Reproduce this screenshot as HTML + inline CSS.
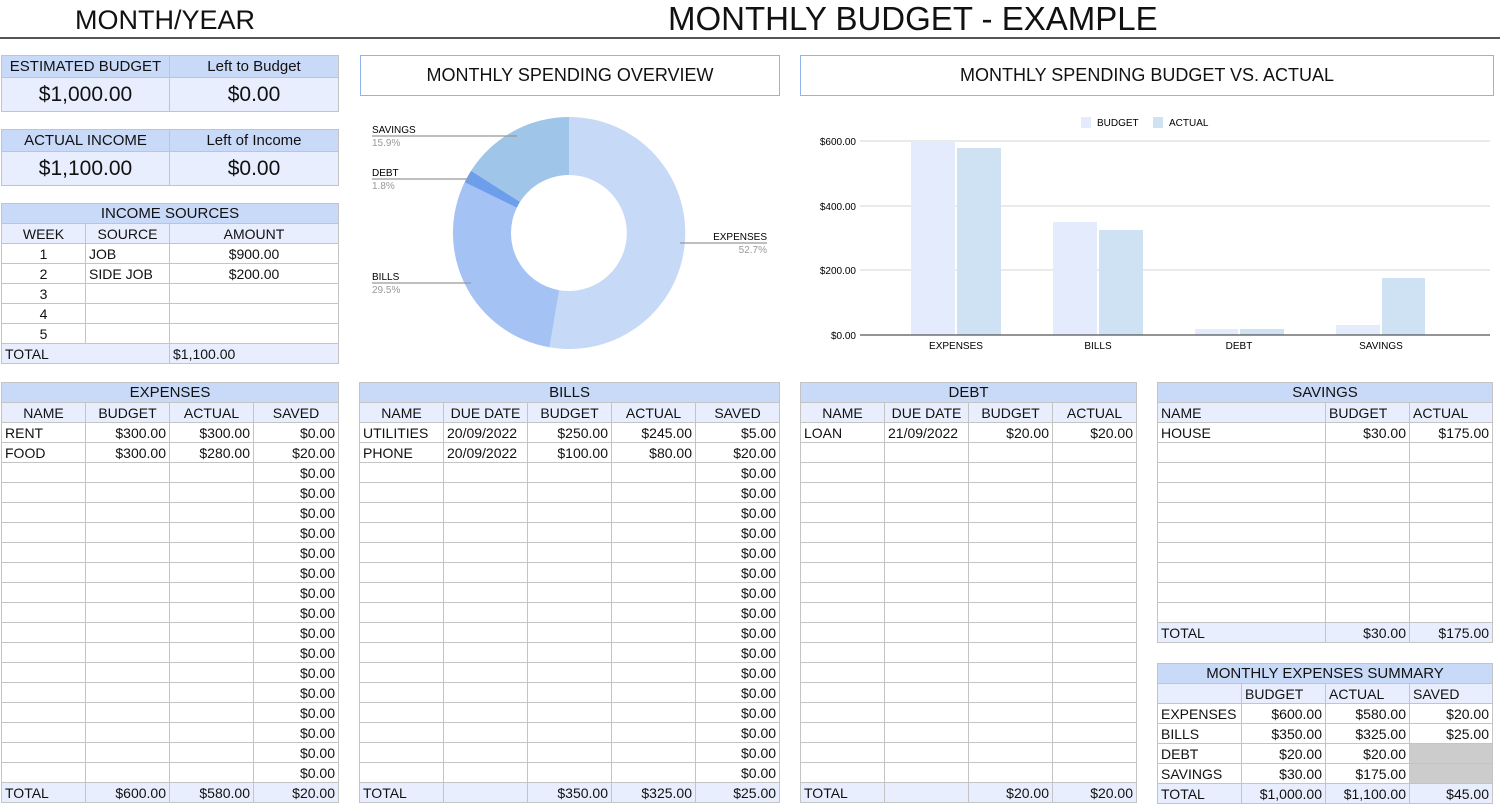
<!DOCTYPE html>
<html><head><meta charset="utf-8"><style>
body{margin:0;width:1500px;height:808px;background:#fff;position:relative;overflow:hidden;font-family:"Liberation Sans",sans-serif;color:#111}
.a{position:absolute}
table{position:absolute;border-collapse:collapse;table-layout:fixed;font-size:14px}
td{border:1px solid #c4c4c4;padding:0 3px;white-space:nowrap;overflow:hidden;line-height:18px;height:19px}
.h{background:#c9daf8;text-align:center;font-size:15px}
.s{background:#e8eefd;text-align:center}
.t td{background:#e8eefd}
.r{text-align:right}.c{text-align:center}
.g{background:#cccccc}
.box{position:absolute;border:1px solid #8fb3ee;background:#fff;text-align:center;font-size:18px;line-height:38px}
</style></head><body>
<div class="a" style="left:0;top:0;width:1500px;height:37px;border-bottom:2px solid #555"></div>
<div class="a" style="left:75px;top:2px;font-size:27px;line-height:36px">MONTH/YEAR</div>
<div class="a" style="left:668px;top:0;font-size:33px;line-height:38px">MONTHLY BUDGET - EXAMPLE</div>

<table style="left:1px;top:55px;width:337px">
<col style="width:168px"><col style="width:169px">
<tr><td class="h" style="height:21px">ESTIMATED BUDGET</td><td class="h" style="height:21px">Left to Budget</td></tr>
<tr><td class="s" style="height:33px;font-size:21px">$1,000.00</td><td class="s" style="height:33px;font-size:21px">$0.00</td></tr></table>
<table style="left:1px;top:129px;width:337px">
<col style="width:168px"><col style="width:169px">
<tr><td class="h" style="height:21px">ACTUAL INCOME</td><td class="h" style="height:21px">Left of Income</td></tr>
<tr><td class="s" style="height:33px;font-size:21px">$1,100.00</td><td class="s" style="height:33px;font-size:21px">$0.00</td></tr></table>

<table style="left:1px;top:203px;width:337px">
<col style="width:84px"><col style="width:84px"><col style="width:169px">
<tr><td class="h" colspan="3">INCOME SOURCES</td></tr>
<tr><td class="s">WEEK</td><td class="s">SOURCE</td><td class="s">AMOUNT</td></tr>
<tr><td class="c">1</td><td>JOB</td><td class="c">$900.00</td></tr>
<tr><td class="c">2</td><td>SIDE JOB</td><td class="c">$200.00</td></tr>
<tr><td class="c">3</td><td></td><td></td></tr>
<tr><td class="c">4</td><td></td><td></td></tr>
<tr><td class="c">5</td><td></td><td></td></tr>
<tr class="t"><td colspan="2">TOTAL</td><td>$1,100.00</td></tr></table>

<div class="box" style="left:360px;top:55px;width:418px;height:39px">MONTHLY SPENDING OVERVIEW</div>
<div class="box" style="left:800px;top:55px;width:692px;height:39px">MONTHLY SPENDING BUDGET VS. ACTUAL</div>

<svg class="a" style="left:0;top:0" width="1500" height="380">
<path d="M569,117 A116,116 0 1 1 549.5,347.3 L559.2,290.2 A58,58 0 1 0 569,175 Z" fill="#c6d9f7"/>
<path d="M549.5,347.3 A116,116 0 0 1 464.6,182.3 L516.8,207.7 A58,58 0 0 0 559.2,290.2 Z" fill="#a4c2f4"/>
<path d="M464.6,182.3 A116,116 0 0 1 471.1,170.8 L520,201.9 A58,58 0 0 0 516.8,207.7 Z" fill="#6d9eeb"/>
<path d="M471.1,170.8 A116,116 0 0 1 569,117 L569,175 A58,58 0 0 0 520,201.9 Z" fill="#9fc5e8"/>
<g stroke="#999" stroke-width="1.2">
<line x1="372" y1="136" x2="517" y2="136"/><line x1="372" y1="179" x2="472" y2="179"/>
<line x1="372" y1="283" x2="471" y2="283"/><line x1="680" y1="243" x2="767" y2="243"/></g>
<g font-family="Liberation Sans" font-size="10">
<text x="372" y="133">SAVINGS</text><text x="372" y="146" fill="#999">15.9%</text>
<text x="372" y="176">DEBT</text><text x="372" y="189" fill="#999">1.8%</text>
<text x="372" y="280">BILLS</text><text x="372" y="293" fill="#999">29.5%</text>
<text x="767" y="240" text-anchor="end">EXPENSES</text><text x="767" y="253" fill="#999" text-anchor="end">52.7%</text>
</g>
<g stroke="#d6d6d6"><line x1="860" y1="141" x2="1490" y2="141"/><line x1="860" y1="206" x2="1490" y2="206"/><line x1="860" y1="270" x2="1490" y2="270"/></g>
<g fill="#e3ebfd"><rect x="911" y="141" width="44" height="194"/><rect x="1053" y="222" width="44" height="113"/><rect x="1195" y="329" width="43" height="6"/><rect x="1336" y="325" width="44" height="10"/><rect x="1081" y="117" width="10" height="11"/></g>
<g fill="#cfe2f3"><rect x="957" y="148" width="44" height="187"/><rect x="1099" y="230" width="44" height="105"/><rect x="1240" y="329" width="44" height="6"/><rect x="1382" y="278" width="43" height="57"/><rect x="1153" y="117" width="10" height="11"/></g>
<line x1="860" y1="335" x2="1490" y2="335" stroke="#555" stroke-width="1.2"/>
<g font-family="Liberation Sans" font-size="10">
<text x="1097" y="126">BUDGET</text><text x="1169" y="126">ACTUAL</text>
<text x="856" y="145" text-anchor="end">$600.00</text><text x="856" y="210" text-anchor="end">$400.00</text>
<text x="856" y="274" text-anchor="end">$200.00</text><text x="856" y="339" text-anchor="end">$0.00</text>
<g text-anchor="middle"><text x="956" y="349">EXPENSES</text><text x="1098" y="349">BILLS</text><text x="1239" y="349">DEBT</text><text x="1381" y="349">SAVINGS</text></g>
</g></svg>

<table style="left:1px;top:382px;width:337px">
<col style="width:84px"><col style="width:84px"><col style="width:84px"><col style="width:85px">
<tr><td class="h" colspan="4">EXPENSES</td></tr>
<tr><td class="s">NAME</td><td class="s">BUDGET</td><td class="s">ACTUAL</td><td class="s">SAVED</td></tr>
<tr><td>RENT</td><td class="r">$300.00</td><td class="r">$300.00</td><td class="r">$0.00</td></tr>
<tr><td>FOOD</td><td class="r">$300.00</td><td class="r">$280.00</td><td class="r">$20.00</td></tr>
<tr><td></td><td></td><td></td><td class="r">$0.00</td></tr><tr><td></td><td></td><td></td><td class="r">$0.00</td></tr>
<tr><td></td><td></td><td></td><td class="r">$0.00</td></tr><tr><td></td><td></td><td></td><td class="r">$0.00</td></tr>
<tr><td></td><td></td><td></td><td class="r">$0.00</td></tr><tr><td></td><td></td><td></td><td class="r">$0.00</td></tr>
<tr><td></td><td></td><td></td><td class="r">$0.00</td></tr><tr><td></td><td></td><td></td><td class="r">$0.00</td></tr>
<tr><td></td><td></td><td></td><td class="r">$0.00</td></tr><tr><td></td><td></td><td></td><td class="r">$0.00</td></tr>
<tr><td></td><td></td><td></td><td class="r">$0.00</td></tr><tr><td></td><td></td><td></td><td class="r">$0.00</td></tr>
<tr><td></td><td></td><td></td><td class="r">$0.00</td></tr><tr><td></td><td></td><td></td><td class="r">$0.00</td></tr>
<tr><td></td><td></td><td></td><td class="r">$0.00</td></tr><tr><td></td><td></td><td></td><td class="r">$0.00</td></tr>
<tr class="t"><td>TOTAL</td><td class="r">$600.00</td><td class="r">$580.00</td><td class="r">$20.00</td></tr></table>

<table style="left:359px;top:382px;width:420px">
<col style="width:84px"><col style="width:84px"><col style="width:84px"><col style="width:84px"><col style="width:84px">
<tr><td class="h" colspan="5">BILLS</td></tr>
<tr><td class="s">NAME</td><td class="s">DUE DATE</td><td class="s">BUDGET</td><td class="s">ACTUAL</td><td class="s">SAVED</td></tr>
<tr><td>UTILITIES</td><td>20/09/2022</td><td class="r">$250.00</td><td class="r">$245.00</td><td class="r">$5.00</td></tr>
<tr><td>PHONE</td><td>20/09/2022</td><td class="r">$100.00</td><td class="r">$80.00</td><td class="r">$20.00</td></tr>
<tr><td></td><td></td><td></td><td></td><td class="r">$0.00</td></tr><tr><td></td><td></td><td></td><td></td><td class="r">$0.00</td></tr>
<tr><td></td><td></td><td></td><td></td><td class="r">$0.00</td></tr><tr><td></td><td></td><td></td><td></td><td class="r">$0.00</td></tr>
<tr><td></td><td></td><td></td><td></td><td class="r">$0.00</td></tr><tr><td></td><td></td><td></td><td></td><td class="r">$0.00</td></tr>
<tr><td></td><td></td><td></td><td></td><td class="r">$0.00</td></tr><tr><td></td><td></td><td></td><td></td><td class="r">$0.00</td></tr>
<tr><td></td><td></td><td></td><td></td><td class="r">$0.00</td></tr><tr><td></td><td></td><td></td><td></td><td class="r">$0.00</td></tr>
<tr><td></td><td></td><td></td><td></td><td class="r">$0.00</td></tr><tr><td></td><td></td><td></td><td></td><td class="r">$0.00</td></tr>
<tr><td></td><td></td><td></td><td></td><td class="r">$0.00</td></tr><tr><td></td><td></td><td></td><td></td><td class="r">$0.00</td></tr>
<tr><td></td><td></td><td></td><td></td><td class="r">$0.00</td></tr><tr><td></td><td></td><td></td><td></td><td class="r">$0.00</td></tr>
<tr class="t"><td>TOTAL</td><td></td><td class="r">$350.00</td><td class="r">$325.00</td><td class="r">$25.00</td></tr></table>

<table style="left:800px;top:382px;width:336px">
<col style="width:84px"><col style="width:84px"><col style="width:84px"><col style="width:84px">
<tr><td class="h" colspan="4">DEBT</td></tr>
<tr><td class="s">NAME</td><td class="s">DUE DATE</td><td class="s">BUDGET</td><td class="s">ACTUAL</td></tr>
<tr><td>LOAN</td><td>21/09/2022</td><td class="r">$20.00</td><td class="r">$20.00</td></tr>
<tr><td></td><td></td><td></td><td></td></tr><tr><td></td><td></td><td></td><td></td></tr><tr><td></td><td></td><td></td><td></td></tr>
<tr><td></td><td></td><td></td><td></td></tr><tr><td></td><td></td><td></td><td></td></tr><tr><td></td><td></td><td></td><td></td></tr>
<tr><td></td><td></td><td></td><td></td></tr><tr><td></td><td></td><td></td><td></td></tr><tr><td></td><td></td><td></td><td></td></tr>
<tr><td></td><td></td><td></td><td></td></tr><tr><td></td><td></td><td></td><td></td></tr><tr><td></td><td></td><td></td><td></td></tr>
<tr><td></td><td></td><td></td><td></td></tr><tr><td></td><td></td><td></td><td></td></tr><tr><td></td><td></td><td></td><td></td></tr>
<tr><td></td><td></td><td></td><td></td></tr><tr><td></td><td></td><td></td><td></td></tr>
<tr class="t"><td>TOTAL</td><td></td><td class="r">$20.00</td><td class="r">$20.00</td></tr></table>

<table style="left:1157px;top:382px;width:335px">
<col style="width:168px"><col style="width:84px"><col style="width:83px">
<tr><td class="h" colspan="3">SAVINGS</td></tr>
<tr><td class="s" style="text-align:left">NAME</td><td class="s" style="text-align:left">BUDGET</td><td class="s" style="text-align:left">ACTUAL</td></tr>
<tr><td>HOUSE</td><td class="r">$30.00</td><td class="r">$175.00</td></tr>
<tr><td></td><td></td><td></td></tr><tr><td></td><td></td><td></td></tr><tr><td></td><td></td><td></td></tr>
<tr><td></td><td></td><td></td></tr><tr><td></td><td></td><td></td></tr><tr><td></td><td></td><td></td></tr>
<tr><td></td><td></td><td></td></tr><tr><td></td><td></td><td></td></tr><tr><td></td><td></td><td></td></tr>
<tr class="t"><td>TOTAL</td><td class="r">$30.00</td><td class="r">$175.00</td></tr></table>

<table style="left:1157px;top:663px;width:335px">
<col style="width:84px"><col style="width:84px"><col style="width:84px"><col style="width:83px">
<tr><td class="h" colspan="4">MONTHLY EXPENSES SUMMARY</td></tr>
<tr><td class="s"></td><td class="s" style="text-align:left">BUDGET</td><td class="s" style="text-align:left">ACTUAL</td><td class="s" style="text-align:left">SAVED</td></tr>
<tr><td>EXPENSES</td><td class="r">$600.00</td><td class="r">$580.00</td><td class="r">$20.00</td></tr>
<tr><td>BILLS</td><td class="r">$350.00</td><td class="r">$325.00</td><td class="r">$25.00</td></tr>
<tr><td>DEBT</td><td class="r">$20.00</td><td class="r">$20.00</td><td class="g"></td></tr>
<tr><td>SAVINGS</td><td class="r">$30.00</td><td class="r">$175.00</td><td class="g"></td></tr>
<tr class="t"><td>TOTAL</td><td class="r">$1,000.00</td><td class="r">$1,100.00</td><td class="r">$45.00</td></tr></table>
</body></html>
